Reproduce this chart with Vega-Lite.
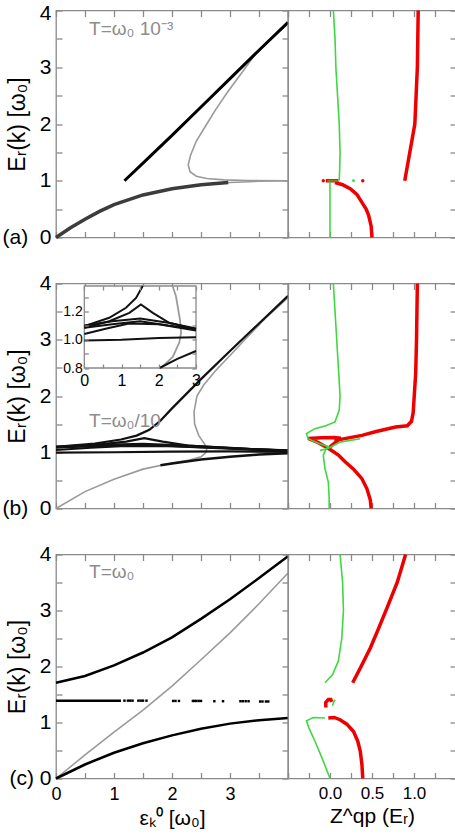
{
"$schema":"https://vega.github.io/schema/vega-lite/v6.json",
"background":"white",
"padding":{"left":1,"top":1.5,"right":0,"bottom":0},
"columns":2,
"spacing":{"row":46,"column":0},
"bounds":"flush",
"config":{
 "view":{"stroke":"#8a8a8a","strokeWidth":1.3},
 "axis":{"domain":false,"grid":false,"ticks":true,"tickColor":"#8a8a8a","tickSize":-6,"tickWidth":1.3,"labelFont":"Liberation Sans","titleFont":"Liberation Sans","labelColor":"#000","titleColor":"#000","titleFontWeight":"normal","labelFlush":false,"labelOverlap":false,"labelBound":false,"labelPadding":11},
 "text":{"font":"Liberation Sans"}
},
"datasets":{
 "aL":[
  {"s":"c","x":4.0,"y":3.77},{"s":"c","x":3.7,"y":3.49},{"s":"c","x":3.43,"y":3.22},{"s":"c","x":3.2,"y":2.9},{"s":"c","x":2.95,"y":2.55},{"s":"c","x":2.75,"y":2.25},{"s":"c","x":2.6,"y":2.0},{"s":"c","x":2.42,"y":1.7},{"s":"c","x":2.32,"y":1.45},{"s":"c","x":2.28,"y":1.28},{"s":"c","x":2.31,"y":1.16},{"s":"c","x":2.42,"y":1.08},{"s":"c","x":2.6,"y":1.04},{"s":"c","x":2.9,"y":1.015},{"s":"c","x":3.3,"y":1.005},{"s":"c","x":4.0,"y":1.0},
  {"s":"low","x":0,"y":0},{"s":"low","x":0.25,"y":0.17},{"s":"low","x":0.5,"y":0.32},{"s":"low","x":0.75,"y":0.46},{"s":"low","x":1.0,"y":0.58},{"s":"low","x":1.5,"y":0.75},{"s":"low","x":2.0,"y":0.86},{"s":"low","x":2.5,"y":0.93},{"s":"low","x":3.0,"y":0.97},{"s":"low","x":3.5,"y":0.99},{"s":"low","x":4.0,"y":1.0},
  {"s":"lowd","x":0,"y":0},{"s":"lowd","x":0.25,"y":0.17},{"s":"lowd","x":0.5,"y":0.32},{"s":"lowd","x":0.75,"y":0.46},{"s":"lowd","x":1.0,"y":0.58},{"s":"lowd","x":1.5,"y":0.75},{"s":"lowd","x":2.0,"y":0.86},{"s":"lowd","x":2.5,"y":0.93},{"s":"lowd","x":2.97,"y":0.97},
  {"s":"up","x":1.18,"y":1.0},{"s":"up","x":1.5,"y":1.31},{"s":"up","x":2.0,"y":1.8},{"s":"up","x":2.5,"y":2.3},{"s":"up","x":3.0,"y":2.8},{"s":"up","x":3.5,"y":3.3},{"s":"up","x":4.0,"y":3.79}
 ],
 "aR":[
  {"s":"g1","x":0.04,"y":4.0},{"s":"g1","x":0.06,"y":3.5},{"s":"g1","x":0.07,"y":3.0},{"s":"g1","x":0.09,"y":2.5},{"s":"g1","x":0.11,"y":2.0},{"s":"g1","x":0.12,"y":1.5},{"s":"g1","x":0.115,"y":1.2},{"s":"g1","x":0.11,"y":1.0},
  {"s":"g2","x":0,"y":0},{"s":"g2","x":0,"y":0.98},
  {"s":"r1","x":1.05,"y":4.0},{"s":"r1","x":1.045,"y":3.5},{"s":"r1","x":1.04,"y":3.0},{"s":"r1","x":1.025,"y":2.5},{"s":"r1","x":1.01,"y":2.0},{"s":"r1","x":0.98,"y":1.75},{"s":"r1","x":0.95,"y":1.5},{"s":"r1","x":0.92,"y":1.25},{"s":"r1","x":0.89,"y":1.0},
  {"s":"r2","x":0.06,"y":0.97},{"s":"r2","x":0.15,"y":0.93},{"s":"r2","x":0.24,"y":0.86},{"s":"r2","x":0.32,"y":0.76},{"s":"r2","x":0.38,"y":0.62},{"s":"r2","x":0.43,"y":0.5},{"s":"r2","x":0.46,"y":0.39},{"s":"r2","x":0.49,"y":0.2},{"s":"r2","x":0.5,"y":0.0},
  {"s":"rs","x":-0.05,"y":1.0},{"s":"rs","x":0.1,"y":1.0},
  {"s":"gs","x":-0.03,"y":1.0},{"s":"gs","x":0.1,"y":1.0},
  {"s":"rd","x":-0.08,"y":1.0},{"s":"rd","x":0.39,"y":1.0},
  {"s":"gd","x":0.28,"y":1.0}
 ],
 "bL":[
  {"s":"G","x":0,"y":0},{"s":"G","x":0.5,"y":0.3},{"s":"G","x":1.0,"y":0.52},{"s":"G","x":1.5,"y":0.7},{"s":"G","x":2.0,"y":0.81},{"s":"G","x":2.3,"y":0.86},{"s":"G","x":2.5,"y":0.92},{"s":"G","x":2.58,"y":0.99},{"s":"G","x":2.6,"y":1.06},{"s":"G","x":2.56,"y":1.15},{"s":"G","x":2.46,"y":1.3},{"s":"G","x":2.39,"y":1.5},{"s":"G","x":2.38,"y":1.72},{"s":"G","x":2.43,"y":2.0},{"s":"G","x":2.55,"y":2.2},{"s":"G","x":2.75,"y":2.45},{"s":"G","x":3.0,"y":2.72},{"s":"G","x":3.3,"y":3.05},{"s":"G","x":3.6,"y":3.37},{"s":"G","x":4.0,"y":3.75},
  {"s":"LB","x":1.8,"y":0.77},{"s":"LB","x":2.0,"y":0.8},{"s":"LB","x":2.5,"y":0.87},{"s":"LB","x":3.0,"y":0.92},{"s":"LB","x":3.5,"y":0.96},{"s":"LB","x":4.0,"y":0.98},
  {"s":"U","x":0,"y":1.096},{"s":"U","x":0.67,"y":1.155},{"s":"U","x":1.12,"y":1.226},{"s":"U","x":1.39,"y":1.296},{"s":"U","x":1.61,"y":1.4},{"s":"U","x":1.8,"y":1.56},{"s":"U","x":2.0,"y":1.78},{"s":"U","x":2.5,"y":2.3},{"s":"U","x":3.0,"y":2.8},{"s":"U","x":3.5,"y":3.29},{"s":"U","x":4.0,"y":3.78},
  {"s":"P","x":0,"y":1.084},{"s":"P","x":0.67,"y":1.131},{"s":"P","x":1.21,"y":1.19},{"s":"P","x":1.52,"y":1.25},{"s":"P","x":1.84,"y":1.19},{"s":"P","x":2.28,"y":1.12},{"s":"P","x":3.0,"y":1.072},{"s":"P","x":3.5,"y":1.05},{"s":"P","x":4.0,"y":1.035},
  {"s":"L1","x":0,"y":1.1},{"s":"L1","x":0.75,"y":1.13},{"s":"L1","x":1.5,"y":1.15},{"s":"L1","x":2.25,"y":1.12},{"s":"L1","x":3.0,"y":1.08},{"s":"L1","x":3.5,"y":1.05},{"s":"L1","x":4.0,"y":1.03},
  {"s":"L2","x":0,"y":1.085},{"s":"L2","x":0.75,"y":1.11},{"s":"L2","x":1.5,"y":1.13},{"s":"L2","x":2.25,"y":1.1},{"s":"L2","x":3.0,"y":1.075},{"s":"L2","x":3.5,"y":1.05},{"s":"L2","x":4.0,"y":1.025},
  {"s":"L3","x":0,"y":1.04},{"s":"L3","x":0.6,"y":1.08},{"s":"L3","x":1.2,"y":1.115},{"s":"L3","x":2.0,"y":1.11},{"s":"L3","x":3.0,"y":1.065},{"s":"L3","x":3.5,"y":1.04},{"s":"L3","x":4.0,"y":1.02},
  {"s":"L4","x":0,"y":0.995},{"s":"L4","x":1.0,"y":1.0},{"s":"L4","x":2.0,"y":1.012},{"s":"L4","x":3.0,"y":1.017},{"s":"L4","x":4.0,"y":1.005}
 ],
 "bI":[
  {"s":"G","x":2.37,"y":1.38},{"s":"G","x":2.46,"y":1.31},{"s":"G","x":2.57,"y":1.14},{"s":"G","x":2.6,"y":1.05},{"s":"G","x":2.55,"y":0.98},{"s":"G","x":2.38,"y":0.88},{"s":"G","x":2.1,"y":0.81},{"s":"G","x":2.06,"y":0.8},
  {"s":"U","x":0,"y":1.096},{"s":"U","x":0.67,"y":1.155},{"s":"U","x":1.12,"y":1.226},{"s":"U","x":1.39,"y":1.296},{"s":"U","x":1.57,"y":1.38},
  {"s":"P","x":0,"y":1.084},{"s":"P","x":0.67,"y":1.131},{"s":"P","x":1.21,"y":1.19},{"s":"P","x":1.52,"y":1.25},{"s":"P","x":1.84,"y":1.19},{"s":"P","x":2.28,"y":1.12},{"s":"P","x":3.0,"y":1.072},
  {"s":"L1","x":0,"y":1.1},{"s":"L1","x":0.75,"y":1.13},{"s":"L1","x":1.5,"y":1.15},{"s":"L1","x":2.25,"y":1.12},{"s":"L1","x":3.0,"y":1.08},
  {"s":"L2","x":0,"y":1.085},{"s":"L2","x":0.75,"y":1.11},{"s":"L2","x":1.5,"y":1.13},{"s":"L2","x":2.25,"y":1.1},{"s":"L2","x":3.0,"y":1.075},
  {"s":"L3","x":0,"y":1.04},{"s":"L3","x":0.6,"y":1.08},{"s":"L3","x":1.2,"y":1.115},{"s":"L3","x":2.0,"y":1.11},{"s":"L3","x":3.0,"y":1.065},
  {"s":"L4","x":0,"y":0.995},{"s":"L4","x":1.0,"y":1.0},{"s":"L4","x":2.0,"y":1.012},{"s":"L4","x":3.0,"y":1.017},
  {"s":"LB","x":2.02,"y":0.8},{"s":"LB","x":2.5,"y":0.865},{"s":"LB","x":3.0,"y":0.92}
 ],
 "bR":[
  {"s":"g1","x":0.04,"y":4.0},{"s":"g1","x":0.08,"y":3.0},{"s":"g1","x":0.12,"y":2.0},{"s":"g1","x":0.11,"y":1.75},{"s":"g1","x":0.06,"y":1.54},{"s":"g1","x":-0.05,"y":1.47},{"s":"g1","x":-0.18,"y":1.42},{"s":"g1","x":-0.28,"y":1.33},{"s":"g1","x":-0.26,"y":1.24},{"s":"g1","x":-0.14,"y":1.16},{"s":"g1","x":-0.02,"y":1.1},{"s":"g1","x":-0.05,"y":1.05},{"s":"g1","x":-0.08,"y":0.95},{"s":"g1","x":-0.06,"y":0.71},{"s":"g1","x":-0.02,"y":0.47},{"s":"g1","x":-0.01,"y":0.2},{"s":"g1","x":-0.01,"y":0.0},
  {"s":"g2","x":-0.12,"y":1.03},{"s":"g2","x":-0.02,"y":1.07},{"s":"g2","x":0.12,"y":1.18},{"s":"g2","x":0.36,"y":1.24},
  {"s":"r1","x":1.04,"y":4.0},{"s":"r1","x":1.03,"y":3.0},{"s":"r1","x":1.02,"y":2.4},{"s":"r1","x":0.99,"y":1.7},{"s":"r1","x":0.97,"y":1.55},{"s":"r1","x":0.92,"y":1.47},{"s":"r1","x":0.78,"y":1.45},{"s":"r1","x":0.55,"y":1.37},{"s":"r1","x":0.38,"y":1.3},{"s":"r1","x":0.1,"y":1.22},{"s":"r1","x":-0.02,"y":1.07},{"s":"r1","x":0.1,"y":0.95},{"s":"r1","x":0.18,"y":0.83},{"s":"r1","x":0.28,"y":0.7},{"s":"r1","x":0.38,"y":0.53},{"s":"r1","x":0.44,"y":0.35},{"s":"r1","x":0.48,"y":0.15},{"s":"r1","x":0.49,"y":0.0},
  {"s":"r2","x":-0.02,"y":1.07},{"s":"r2","x":-0.14,"y":1.17},{"s":"r2","x":-0.26,"y":1.245},{"s":"r2","x":-0.1,"y":1.258},{"s":"r2","x":0.05,"y":1.26},{"s":"r2","x":0.13,"y":1.25},{"s":"r2","x":0.05,"y":1.23}
 ],
 "cL":[
  {"s":"g","x":0,"y":0},{"s":"g","x":0.5,"y":0.42},{"s":"g","x":1.0,"y":0.83},{"s":"g","x":1.5,"y":1.22},{"s":"g","x":2.0,"y":1.65},{"s":"g","x":2.5,"y":2.12},{"s":"g","x":3.0,"y":2.6},{"s":"g","x":3.5,"y":3.12},{"s":"g","x":4.0,"y":3.67},
  {"s":"up","x":0,"y":1.71},{"s":"up","x":0.5,"y":1.83},{"s":"up","x":1.0,"y":2.02},{"s":"up","x":1.5,"y":2.25},{"s":"up","x":2.0,"y":2.52},{"s":"up","x":2.5,"y":2.85},{"s":"up","x":3.0,"y":3.2},{"s":"up","x":3.5,"y":3.58},{"s":"up","x":4.0,"y":3.97},
  {"s":"low","x":0,"y":0},{"s":"low","x":0.5,"y":0.25},{"s":"low","x":1.0,"y":0.46},{"s":"low","x":1.5,"y":0.63},{"s":"low","x":2.0,"y":0.77},{"s":"low","x":2.5,"y":0.89},{"s":"low","x":3.0,"y":0.98},{"s":"low","x":3.5,"y":1.04},{"s":"low","x":4.0,"y":1.08},
  {"s":"dl","x":0,"y":1.39},{"s":"dl","x":1.12,"y":1.39},
  {"s":"dt","x":1.18,"y":1.39},{"s":"dt","x":1.24,"y":1.39},{"s":"dt","x":1.28,"y":1.39},{"s":"dt","x":1.32,"y":1.39},{"s":"dt","x":1.42,"y":1.39},{"s":"dt","x":1.46,"y":1.39},{"s":"dt","x":1.5,"y":1.39},{"s":"dt","x":1.56,"y":1.39},{"s":"dt","x":2.02,"y":1.385},{"s":"dt","x":2.06,"y":1.385},{"s":"dt","x":2.12,"y":1.385},{"s":"dt","x":2.36,"y":1.385},{"s":"dt","x":2.39,"y":1.385},{"s":"dt","x":2.42,"y":1.385},{"s":"dt","x":2.46,"y":1.385},{"s":"dt","x":2.5,"y":1.385},{"s":"dt","x":2.73,"y":1.38},{"s":"dt","x":2.88,"y":1.38},{"s":"dt","x":3.18,"y":1.38},{"s":"dt","x":3.22,"y":1.38},{"s":"dt","x":3.27,"y":1.38},{"s":"dt","x":3.32,"y":1.38},{"s":"dt","x":3.52,"y":1.375},{"s":"dt","x":3.56,"y":1.375},{"s":"dt","x":3.62,"y":1.375},{"s":"dt","x":3.66,"y":1.375}
 ],
 "cR":[
  {"s":"g1","x":0.12,"y":4.0},{"s":"g1","x":0.15,"y":3.5},{"s":"g1","x":0.16,"y":3.0},{"s":"g1","x":0.14,"y":2.5},{"s":"g1","x":0.1,"y":2.1},{"s":"g1","x":0.03,"y":1.85},{"s":"g1","x":-0.06,"y":1.71},
  {"s":"g2","x":-0.06,"y":1.08},{"s":"g2","x":-0.2,"y":1.09},{"s":"g2","x":-0.28,"y":1.03},{"s":"g2","x":-0.25,"y":0.9},{"s":"g2","x":-0.18,"y":0.67},{"s":"g2","x":-0.08,"y":0.31},{"s":"g2","x":0.0,"y":0.0},
  {"s":"gh","x":0.06,"y":1.41},{"s":"gh","x":0.04,"y":1.35},{"s":"gh","x":0.03,"y":1.3},
  {"s":"r1","x":0.9,"y":4.0},{"s":"r1","x":0.8,"y":3.5},{"s":"r1","x":0.68,"y":3.05},{"s":"r1","x":0.57,"y":2.65},{"s":"r1","x":0.48,"y":2.33},{"s":"r1","x":0.37,"y":2.0},{"s":"r1","x":0.27,"y":1.71},
  {"s":"r2","x":-0.02,"y":1.08},{"s":"r2","x":0.05,"y":1.09},{"s":"r2","x":0.12,"y":1.05},{"s":"r2","x":0.2,"y":0.97},{"s":"r2","x":0.28,"y":0.84},{"s":"r2","x":0.33,"y":0.67},{"s":"r2","x":0.36,"y":0.49},{"s":"r2","x":0.38,"y":0.25},{"s":"r2","x":0.39,"y":0.0},
  {"s":"rh","x":-0.05,"y":1.27},{"s":"rh","x":-0.05,"y":1.36},{"s":"rh","x":-0.02,"y":1.41},{"s":"rh","x":0.01,"y":1.41},{"s":"rh","x":0.02,"y":1.37}
 ]
},
"concat":[
 {
  "width":232,"height":227,
  "data":{"name":"aL"},
  "layer":[
   {"transform":[{"filter":{"field":"s","oneOf":["c","low"]}}],
    "mark":{"type":"line","color":"#9a9a9a","strokeWidth":1.6},
    "encoding":{
     "x":{"field":"x","type":"quantitative","scale":{"domain":[0,4],"nice":false,"zero":false},"axis":{"orient":"bottom","values":[0,0.5,1,1.5,2,2.5,3,3.5,4],"labels":false,"title":null}},
     "y":{"field":"y","type":"quantitative","scale":{"domain":[0,4],"nice":false,"zero":false},"axis":{"orient":"left","values":[0,0.5,1,1.5,2,2.5,3,3.5,4],"labelExpr":"datum.value==0 ? '(a)\u00a0\u00a00' : (datum.value%1==0 ? format(datum.value,'d') : '')","labelOffset":{"condition":{"test":"datum.value==4","value":3},"value":0},"labelFontSize":21,"title":"Eᵣ(k) [ω₀]","titleFontSize":23,"titleX":-27}},
     "detail":{"field":"s"},"order":{"value":null}}},
   {"transform":[{"filter":{"field":"s","equal":"lowd"}}],
    "mark":{"type":"line","color":"#3c3c3c","strokeWidth":3.5},
    "encoding":{
     "x":{"field":"x","type":"quantitative","scale":{"domain":[0,4],"nice":false,"zero":false},"axis":{"orient":"top","values":[0,0.5,1,1.5,2,2.5,3,3.5,4],"labels":false,"title":null}},
     "y":{"field":"y","type":"quantitative","scale":{"domain":[0,4],"nice":false,"zero":false},"axis":{"orient":"right","values":[0,0.5,1,1.5,2,2.5,3,3.5,4],"labels":false,"title":null}},
     "detail":{"field":"s"},"order":{"value":null}}},
   {"transform":[{"filter":{"field":"s","equal":"up"}}],
    "mark":{"type":"line","color":"#000","strokeWidth":3},
    "encoding":{
     "x":{"field":"x","type":"quantitative","scale":{"domain":[0,4],"nice":false,"zero":false},"axis":null},
     "y":{"field":"y","type":"quantitative","scale":{"domain":[0,4],"nice":false,"zero":false},"axis":null},
     "detail":{"field":"s"},"order":{"value":null}}},
   {"data":{"values":[{}]},
    "mark":{"type":"text","text":"T=ω₀ 10⁻³","align":"left","baseline":"alphabetic","fontSize":19,"color":"#8c8c8c"},
    "encoding":{"x":{"datum":0.57,"type":"quantitative","axis":null},"y":{"datum":3.57,"type":"quantitative","axis":null}}}
  ],
  "resolve":{"axis":{"x":"independent","y":"independent"}}
 },
 {
  "width":168,"height":227,
  "data":{"name":"aR"},
  "layer":[
   {"transform":[{"filter":{"field":"s","oneOf":["r1","r2","rs"]}}],
    "mark":{"type":"line","color":"#ee0000","strokeWidth":3.5},
    "encoding":{
     "x":{"field":"x","type":"quantitative","scale":{"domain":[-0.5,1.5],"nice":false,"zero":false},"axis":{"orient":"bottom","values":[-0.5,-0.25,0,0.25,0.5,0.75,1,1.25,1.5],"labels":false,"title":null}},
     "y":{"field":"y","type":"quantitative","scale":{"domain":[0,4],"nice":false,"zero":false},"axis":{"orient":"right","values":[0,0.5,1,1.5,2,2.5,3,3.5,4],"labels":false,"title":null}},
     "detail":{"field":"s"},"order":{"value":null}}},
   {"transform":[{"filter":{"field":"s","oneOf":["g1","g2"]}}],
    "mark":{"type":"line","color":"#3fd83f","strokeWidth":1.6},
    "encoding":{
     "x":{"field":"x","type":"quantitative","scale":{"domain":[-0.5,1.5],"nice":false,"zero":false},"axis":{"orient":"top","values":[-0.5,-0.25,0,0.25,0.5,0.75,1,1.25,1.5],"labels":false,"title":null}},
     "y":{"field":"y","type":"quantitative","scale":{"domain":[0,4],"nice":false,"zero":false},"axis":null},
     "detail":{"field":"s"},"order":{"value":null}}},
   {"transform":[{"filter":{"field":"s","equal":"gs"}}],
    "mark":{"type":"line","color":"#3fd83f","strokeWidth":2,"opacity":0.6},
    "encoding":{
     "x":{"field":"x","type":"quantitative","scale":{"domain":[-0.5,1.5],"nice":false,"zero":false},"axis":null},
     "y":{"field":"y","type":"quantitative","scale":{"domain":[0,4],"nice":false,"zero":false},"axis":null},
     "detail":{"field":"s"},"order":{"value":null}}},
   {"transform":[{"filter":{"field":"s","equal":"rd"}}],
    "mark":{"type":"circle","color":"#ee0000","size":12,"opacity":1},
    "encoding":{
     "x":{"field":"x","type":"quantitative","scale":{"domain":[-0.5,1.5],"nice":false,"zero":false},"axis":null},
     "y":{"field":"y","type":"quantitative","scale":{"domain":[0,4],"nice":false,"zero":false},"axis":null}}},
   {"transform":[{"filter":{"field":"s","equal":"gd"}}],
    "mark":{"type":"circle","color":"#3fd83f","size":8,"opacity":1},
    "encoding":{
     "x":{"field":"x","type":"quantitative","scale":{"domain":[-0.5,1.5],"nice":false,"zero":false},"axis":null},
     "y":{"field":"y","type":"quantitative","scale":{"domain":[0,4],"nice":false,"zero":false},"axis":null}}}
  ],
  "resolve":{"axis":{"x":"independent","y":"independent"}}
 },
 {
  "width":232,"height":225,
  "layer":[
   {"data":{"name":"bL"},
    "layer":[
     {"transform":[{"filter":{"field":"s","equal":"G"}}],
      "mark":{"type":"line","color":"#9a9a9a","strokeWidth":1.6},
      "encoding":{
       "x":{"field":"x","type":"quantitative","scale":{"domain":[0,4],"nice":false,"zero":false},"axis":{"orient":"bottom","values":[0,0.5,1,1.5,2,2.5,3,3.5,4],"labels":false,"title":null}},
       "y":{"field":"y","type":"quantitative","scale":{"domain":[0,4],"nice":false,"zero":false},"axis":{"orient":"left","values":[0,0.5,1,1.5,2,2.5,3,3.5,4],"labelExpr":"datum.value==0 ? '(b)\u00a0\u00a00' : (datum.value%1==0 ? format(datum.value,'d') : '')","labelFontSize":21,"title":"Eᵣ(k) [ω₀]","titleFontSize":23,"titleX":-27}},
       "detail":{"field":"s"},"order":{"value":null}}},
     {"transform":[{"filter":{"field":"s","equal":"LB"}}],
      "mark":{"type":"line","color":"#111","strokeWidth":2.5},
      "encoding":{
       "x":{"field":"x","type":"quantitative","scale":{"domain":[0,4],"nice":false,"zero":false},"axis":{"orient":"top","values":[0,0.5,1,1.5,2,2.5,3,3.5,4],"labels":false,"title":null}},
       "y":{"field":"y","type":"quantitative","scale":{"domain":[0,4],"nice":false,"zero":false},"axis":{"orient":"right","values":[0,0.5,1,1.5,2,2.5,3,3.5,4],"labels":false,"title":null}},
       "detail":{"field":"s"},"order":{"value":null}}},
     {"transform":[{"filter":{"field":"s","oneOf":["U","P","L1","L2","L3","L4"]}}],
      "mark":{"type":"line","color":"#111","strokeWidth":2.2},
      "encoding":{
       "x":{"field":"x","type":"quantitative","scale":{"domain":[0,4],"nice":false,"zero":false},"axis":null},
       "y":{"field":"y","type":"quantitative","scale":{"domain":[0,4],"nice":false,"zero":false},"axis":null},
       "detail":{"field":"s"},"order":{"value":null}}},
     {"data":{"values":[{}]},
      "mark":{"type":"text","text":"T=ω₀/10","align":"left","baseline":"alphabetic","fontSize":19,"color":"#8c8c8c"},
      "encoding":{"x":{"datum":0.57,"type":"quantitative","axis":null},"y":{"datum":1.45,"type":"quantitative","axis":null}}}
    ],
    "resolve":{"axis":{"x":"independent","y":"independent"}}},
   {"data":{"name":"bI"},
    "layer":[
     {"data":{"values":[{}]},
      "mark":{"type":"rect","fill":"white","stroke":"#8a8a8a","strokeWidth":1.3},
      "encoding":{
       "x":{"datum":0,"type":"quantitative","scale":{"domain":[0,3],"range":[28.3,140],"nice":false,"zero":false},"axis":{"orient":"bottom","offset":-140.5,"values":[0,0.5,1,1.5,2,2.5,3],"labelExpr":"datum.value%1==0 ? format(datum.value,'d') : ''","labelFontSize":16,"labelPadding":8,"tickSize":-4,"title":null,"zindex":1}},
       "x2":{"datum":3},
       "y":{"datum":0.8,"type":"quantitative","scale":{"domain":[0.8,1.38],"range":[84.5,2.5],"nice":false,"zero":false},"axis":{"orient":"left","offset":-28.3,"values":[0.8,0.9,1.0,1.1,1.2,1.3],"labelExpr":"(datum.value==0.8||datum.value==1||datum.value==1.2) ? format(datum.value,'.1f') : ''","labelFontSize":14,"labelPadding":6,"tickSize":-4,"title":null,"zindex":1}},
       "y2":{"datum":1.38}}},
     {"transform":[{"filter":{"field":"s","equal":"G"}}],
      "mark":{"type":"line","color":"#9a9a9a","strokeWidth":1.8},
      "encoding":{
       "x":{"field":"x","type":"quantitative","scale":{"domain":[0,3],"range":[28.3,140],"nice":false,"zero":false},"axis":{"orient":"top","offset":-2.5,"values":[0,0.5,1,1.5,2,2.5,3],"labels":false,"tickSize":-4,"title":null,"zindex":1}},
       "y":{"field":"y","type":"quantitative","scale":{"domain":[0.8,1.38],"range":[84.5,2.5],"nice":false,"zero":false},"axis":{"orient":"right","offset":-92,"values":[0.8,0.9,1.0,1.1,1.2,1.3],"labels":false,"tickSize":-4,"title":null,"zindex":1}},
       "detail":{"field":"s"},"order":{"value":null}}},
     {"transform":[{"filter":{"field":"s","oneOf":["U","P","L1","L2","L3","L4","LB"]}}],
      "mark":{"type":"line","color":"#111","strokeWidth":2},
      "encoding":{
       "x":{"field":"x","type":"quantitative","scale":{"domain":[0,3],"range":[28.3,140],"nice":false,"zero":false},"axis":null},
       "y":{"field":"y","type":"quantitative","scale":{"domain":[0.8,1.38],"range":[84.5,2.5],"nice":false,"zero":false},"axis":null},
       "detail":{"field":"s"},"order":{"value":null}}}
    ],
    "resolve":{"axis":{"x":"independent","y":"independent"}}}
  ],
  "resolve":{"scale":{"x":"independent","y":"independent"},"axis":{"x":"independent","y":"independent"}}
 },
 {
  "width":168,"height":225,
  "data":{"name":"bR"},
  "layer":[
   {"transform":[{"filter":{"field":"s","oneOf":["r1","r2"]}}],
    "mark":{"type":"line","color":"#ee0000","strokeWidth":3.5},
    "encoding":{
     "x":{"field":"x","type":"quantitative","scale":{"domain":[-0.5,1.5],"nice":false,"zero":false},"axis":{"orient":"bottom","values":[-0.5,-0.25,0,0.25,0.5,0.75,1,1.25,1.5],"labels":false,"title":null}},
     "y":{"field":"y","type":"quantitative","scale":{"domain":[0,4],"nice":false,"zero":false},"axis":{"orient":"right","values":[0,0.5,1,1.5,2,2.5,3,3.5,4],"labels":false,"title":null}},
     "detail":{"field":"s"},"order":{"value":null}}},
   {"transform":[{"filter":{"field":"s","oneOf":["g1","g2"]}}],
    "mark":{"type":"line","color":"#3fd83f","strokeWidth":1.6},
    "encoding":{
     "x":{"field":"x","type":"quantitative","scale":{"domain":[-0.5,1.5],"nice":false,"zero":false},"axis":{"orient":"top","values":[-0.5,-0.25,0,0.25,0.5,0.75,1,1.25,1.5],"labels":false,"title":null}},
     "y":{"field":"y","type":"quantitative","scale":{"domain":[0,4],"nice":false,"zero":false},"axis":null},
     "detail":{"field":"s"},"order":{"value":null}}}
  ],
  "resolve":{"axis":{"x":"independent","y":"independent"}}
 },
 {
  "width":232,"height":224,
  "data":{"name":"cL"},
  "layer":[
   {"transform":[{"filter":{"field":"s","equal":"g"}}],
    "mark":{"type":"line","color":"#9a9a9a","strokeWidth":1.6},
    "encoding":{
     "x":{"field":"x","type":"quantitative","scale":{"domain":[0,4],"nice":false,"zero":false},"axis":{"orient":"bottom","values":[0,0.5,1,1.5,2,2.5,3,3.5,4],"labelExpr":"(datum.value%1==0 && datum.value<4) ? format(datum.value,'d') : ''","labelFontSize":18,"labelPadding":13,"title":"εₖ⁰ [ω₀]","titleFontSize":21,"titlePadding":4}},
     "y":{"field":"y","type":"quantitative","scale":{"domain":[0,4],"nice":false,"zero":false},"axis":{"orient":"left","values":[0,0.5,1,1.5,2,2.5,3,3.5,4],"labelExpr":"datum.value==0 ? '(c)\u00a00' : (datum.value%1==0 ? format(datum.value,'d') : '')","labelFontSize":21,"title":"Eᵣ(k) [ω₀]","titleFontSize":23,"titleX":-27}},
     "detail":{"field":"s"},"order":{"value":null}}},
   {"transform":[{"filter":{"field":"s","oneOf":["up","low"]}}],
    "mark":{"type":"line","color":"#000","strokeWidth":2.5},
    "encoding":{
     "x":{"field":"x","type":"quantitative","scale":{"domain":[0,4],"nice":false,"zero":false},"axis":{"orient":"top","values":[0,0.5,1,1.5,2,2.5,3,3.5,4],"labels":false,"title":null}},
     "y":{"field":"y","type":"quantitative","scale":{"domain":[0,4],"nice":false,"zero":false},"axis":{"orient":"right","values":[0,0.5,1,1.5,2,2.5,3,3.5,4],"labels":false,"title":null}},
     "detail":{"field":"s"},"order":{"value":null}}},
   {"transform":[{"filter":{"field":"s","equal":"dl"}}],
    "mark":{"type":"line","color":"#000","strokeWidth":2.5},
    "encoding":{
     "x":{"field":"x","type":"quantitative","scale":{"domain":[0,4],"nice":false,"zero":false},"axis":null},
     "y":{"field":"y","type":"quantitative","scale":{"domain":[0,4],"nice":false,"zero":false},"axis":null},
     "detail":{"field":"s"},"order":{"value":null}}},
   {"transform":[{"filter":{"field":"s","equal":"dt"}}],
    "mark":{"type":"square","color":"#000","size":6,"opacity":1},
    "encoding":{
     "x":{"field":"x","type":"quantitative","scale":{"domain":[0,4],"nice":false,"zero":false},"axis":null},
     "y":{"field":"y","type":"quantitative","scale":{"domain":[0,4],"nice":false,"zero":false},"axis":null}}},
   {"data":{"values":[{}]},
    "mark":{"type":"text","text":"T=ω₀","align":"left","baseline":"alphabetic","fontSize":19,"color":"#8c8c8c"},
    "encoding":{"x":{"datum":0.57,"type":"quantitative","axis":null},"y":{"datum":3.58,"type":"quantitative","axis":null}}}
  ],
  "resolve":{"axis":{"x":"independent","y":"independent"}}
 },
 {
  "width":168,"height":224,
  "data":{"name":"cR"},
  "layer":[
   {"transform":[{"filter":{"field":"s","oneOf":["r1","r2","rh"]}}],
    "mark":{"type":"line","color":"#ee0000","strokeWidth":3.5},
    "encoding":{
     "x":{"field":"x","type":"quantitative","scale":{"domain":[-0.5,1.5],"nice":false,"zero":false},"axis":{"orient":"bottom","values":[-0.5,-0.25,0,0.25,0.5,0.75,1,1.25,1.5],"labelExpr":"(datum.value==0||datum.value==0.5||datum.value==1) ? format(datum.value,'.1f') : ''","labelFontSize":17,"labelPadding":13,"title":"Z^qp (Eᵣ)","titleFontSize":21,"titlePadding":4}},
     "y":{"field":"y","type":"quantitative","scale":{"domain":[0,4],"nice":false,"zero":false},"axis":{"orient":"right","values":[0,0.5,1,1.5,2,2.5,3,3.5,4],"labels":false,"title":null}},
     "detail":{"field":"s"},"order":{"value":null}}},
   {"transform":[{"filter":{"field":"s","oneOf":["g1","g2","gh"]}}],
    "mark":{"type":"line","color":"#3fd83f","strokeWidth":1.6},
    "encoding":{
     "x":{"field":"x","type":"quantitative","scale":{"domain":[-0.5,1.5],"nice":false,"zero":false},"axis":{"orient":"top","values":[-0.5,-0.25,0,0.25,0.5,0.75,1,1.25,1.5],"labels":false,"title":null}},
     "y":{"field":"y","type":"quantitative","scale":{"domain":[0,4],"nice":false,"zero":false},"axis":null},
     "detail":{"field":"s"},"order":{"value":null}}}
  ],
  "resolve":{"axis":{"x":"independent","y":"independent"}}
 }
]
}
